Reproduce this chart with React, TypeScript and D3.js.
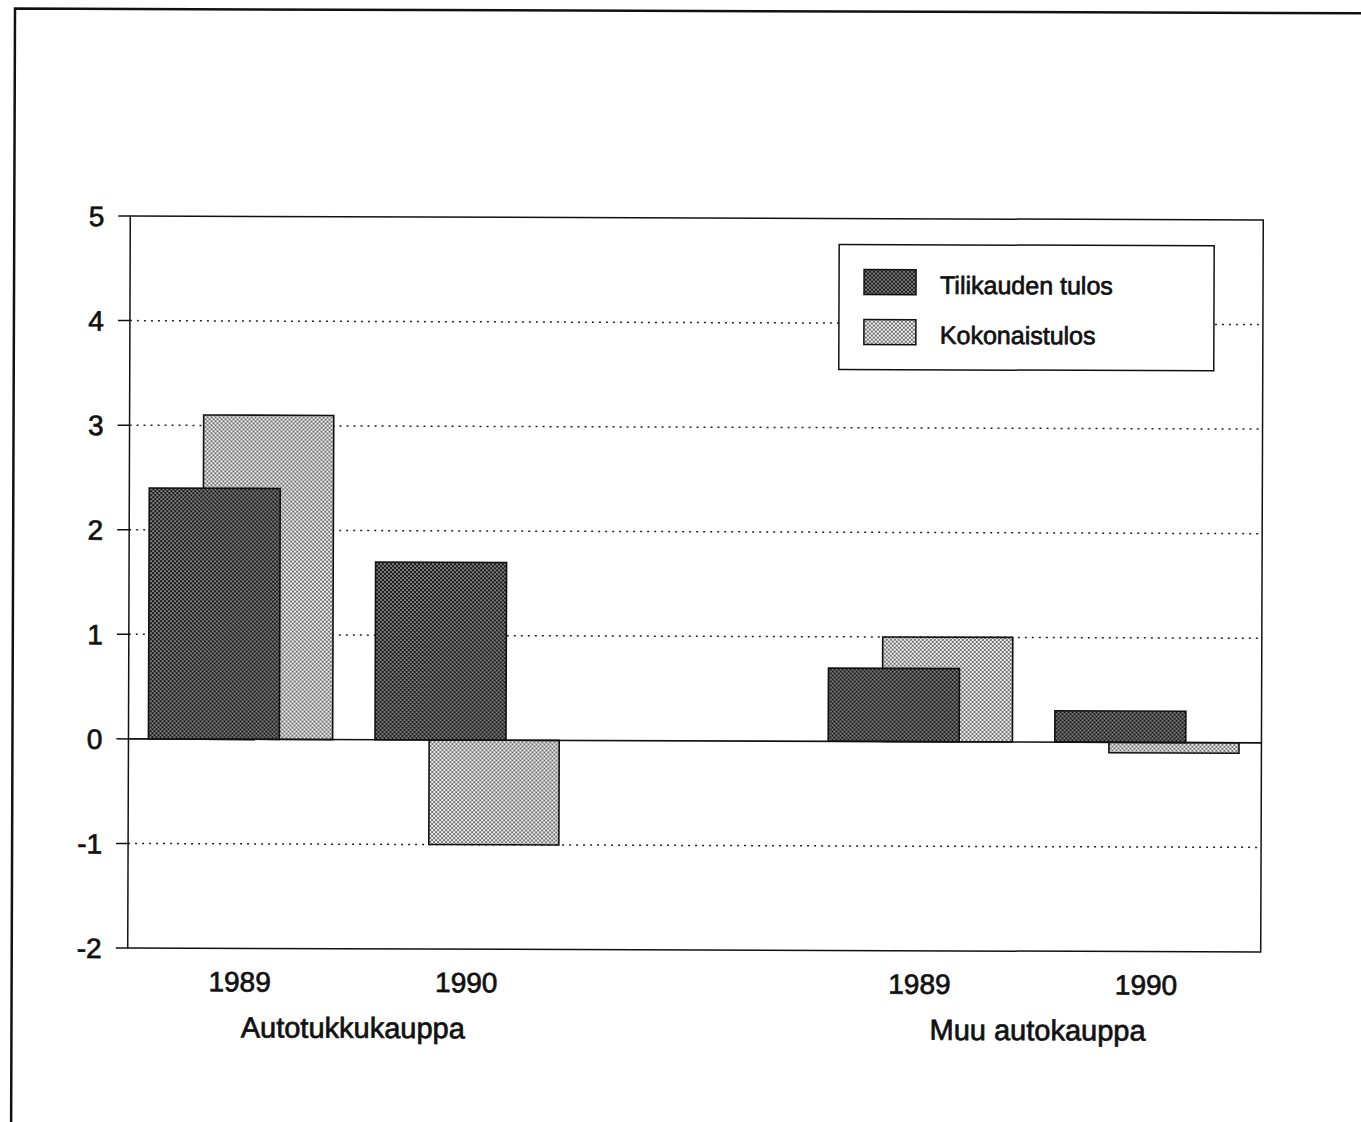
import React from "react";
import * as d3 from "d3";

const slotKeys = ["a1989", "a1990", "gap", "m1989", "m1990"];
const yearLabels = ["1989", "1990", "", "1989", "1990"];
const tilikaudenTulos = [2.4, 1.7, null, 0.7, 0.3];
const kokonaistulos = [3.1, -1.0, null, 1.0, -0.1];
const yTicks = [5, 4, 3, 2, 1, 0, -1, -2];
const gridValues = [4, 3, 2, 1, -1];
const groupNames = ["Autotukkukauppa", "Muu autokauppa"];
const groupSlots = [["a1989", "a1990"], ["m1989", "m1990"]];
const seriesNames = ["Tilikauden tulos", "Kokonaistulos"];

const W = 1361;
const H = 1122;
const FONT = "'Liberation Sans', Arial, Helvetica, sans-serif";

export default function App() {
  const left = 129;
  const right = 1262;
  const top = 218;
  const bottom = 950;

  const x = d3.scaleBand<string>().domain(slotKeys).range([left, right]).paddingInner(0).paddingOuter(0);
  const y = d3.scaleLinear().domain([-2, 5]).range([bottom, top]);
  const bw = x.bandwidth();

  const darkOff = bw * 0.088;
  const darkW = bw * 0.578;
  const lightOff = bw * 0.327;
  const lightW = bw * 0.574;
  const clusterCenter = (k: string) => (x(k) as number) + (darkOff + lightOff + lightW) / 2;

  const barRect = (v: number | null, off: number, w: number, k: string, fill: string) => {
    if (v === null) return null;
    const y0 = y(0);
    const yv = y(v);
    return (
      <rect
        key={k + fill}
        x={(x(k) as number) + off}
        y={Math.min(y0, yv)}
        width={w}
        height={Math.abs(yv - y0)}
        fill={fill}
        stroke="#111"
        strokeWidth={1.6}
      />
    );
  };

  const textStyle = { stroke: "#111", strokeWidth: 0.7 } as const;

  return (
    <svg width={W} height={H} style={{ position: "absolute", left: 0, top: 0, background: "#fff" }}>
      <defs>
        <pattern id="dark" width="4" height="4" patternUnits="userSpaceOnUse">
          <rect width="4" height="4" fill="#1c1c1c" />
          <circle cx="1" cy="1" r="0.85" fill="#d8d8d8" />
          <circle cx="3" cy="3" r="0.85" fill="#d8d8d8" />
        </pattern>
        <pattern id="light" width="4" height="4" patternUnits="userSpaceOnUse">
          <rect width="4" height="4" fill="#f2f2f2" />
          <circle cx="1" cy="1" r="0.9" fill="#333" />
          <circle cx="3" cy="3" r="0.9" fill="#333" />
        </pattern>
      </defs>
      <g transform="rotate(0.2 695 585)" fontFamily={FONT} fill="#111">
        {/* outer frame */}
        <path d={`M13,${H + 20} L13,11 L${W + 20},11`} fill="none" stroke="#111" strokeWidth={2.5} />

        {/* grid lines */}
        {gridValues.map((v) => (
          <line key={"g" + v} x1={left} x2={right} y1={y(v)} y2={y(v)} stroke="#222" strokeWidth={1.5} strokeDasharray="2 5" />
        ))}

        {/* plot frame */}
        <rect x={left} y={top} width={right - left} height={bottom - top} fill="none" stroke="#111" strokeWidth={1.5} />

        {/* y ticks */}
        {yTicks.map((t) => (
          <g key={"t" + t}>
            <line x1={left - 12} x2={left} y1={y(t)} y2={y(t)} stroke="#111" strokeWidth={1.5} />
            <text x={103} y={y(t)} dy="0.36em" textAnchor="end" fontSize={28} style={textStyle}>
              {t}
            </text>
          </g>
        ))}

        {/* bars: light behind, dark in front */}
        {slotKeys.map((k, i) => barRect(kokonaistulos[i], lightOff, lightW, k, "url(#light)"))}
        {slotKeys.map((k, i) => barRect(tilikaudenTulos[i], darkOff, darkW, k, "url(#dark)"))}

        {/* zero line */}
        <line x1={left} x2={right} y1={y(0)} y2={y(0)} stroke="#111" strokeWidth={1.6} />

        {/* year labels */}
        {slotKeys.map((k, i) =>
          yearLabels[i] ? (
            <text key={"yl" + k} x={clusterCenter(k)} y={bottom + 43} textAnchor="middle" fontSize={28} style={textStyle}>
              {yearLabels[i]}
            </text>
          ) : null
        )}

        {/* group labels */}
        {groupNames.map((g, gi) => {
          const cx = (clusterCenter(groupSlots[gi][0]) + clusterCenter(groupSlots[gi][1])) / 2 + (gi === 1 ? 5 : 0);
          return (
            <text key={g} x={cx} y={bottom + 89} textAnchor="middle" fontSize={29} style={textStyle}>
              {g}
            </text>
          );
        })}

        {/* legend */}
        <rect x={838} y={244} width={375} height={125} fill="#fff" stroke="#111" strokeWidth={1.5} />
        {seriesNames.map((s, i) => (
          <g key={s}>
            <rect x={863} y={269 + i * 50} width={52} height={25} fill={i === 0 ? "url(#dark)" : "url(#light)"} stroke="#111" strokeWidth={1.5} />
            <text x={939} y={293 + i * 50} fontSize={25} style={textStyle}>
              {s}
            </text>
          </g>
        ))}
      </g>
    </svg>
  );
}
